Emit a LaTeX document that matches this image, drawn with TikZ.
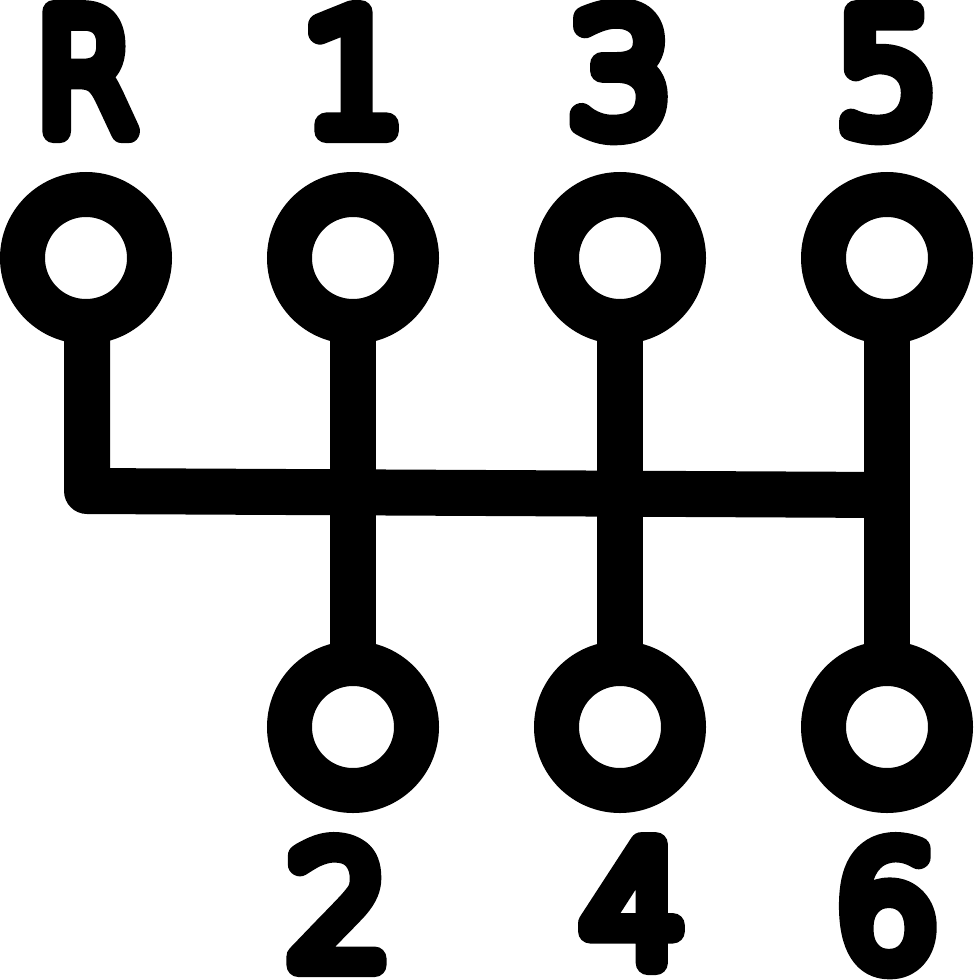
\documentclass[tikz,border=0pt]{standalone}
\usepackage{fontspec}
\setmainfont{DejaVu Sans ExtraLight}
\newcommand{\strokedtext}[1]{\special{pdf:code 1 J 1 j 24 w 2 Tr}#1\special{pdf:code 0 Tr}}
\pgfdeclarelayer{rods}
\pgfsetlayers{rods,main}
\tikzset{
  ring/.style={circle,draw=black,fill=white,line width=45pt,minimum size=127pt,inner sep=0pt,outer sep=0pt},
  rod/.style={draw=black,line width=46pt,line join=round},
  gearlabel/.style={inner sep=0pt,outer sep=0pt,anchor=base,font=\fontsize{163pt}{163pt}\selectfont,text=black}
}
\begin{document}
\begin{tikzpicture}[x=1pt,y=-1pt]
\useasboundingbox (0,0) rectangle (974,980);
\node[ring] (r) at (86,258) {};
\node[ring] (g1) at (353,258) {};
\node[ring] (g3) at (620,258) {};
\node[ring] (g5) at (887,258) {};
\node[ring] (g2) at (353,727) {};
\node[ring] (g4) at (620,727) {};
\node[ring] (g6) at (887,727) {};
\coordinate (corner) at (87,491);
\coordinate (end) at (887,495);
\begin{pgfonlayer}{rods}
\draw[rod] (g1.south) -- (g2.north);
\draw[rod] (g3.south) -- (g4.north);
\draw[rod] (g5.south) -- (g6.north);
\draw[rod] (r.south -| corner) -- (corner) -- (end);
\end{pgfonlayer}
\node[gearlabel,xscale=.9] (lr) at (86,131) {\strokedtext{R}};
\node[gearlabel] (l1) at (354,131) {\strokedtext{1}};
\node[gearlabel] (l3) at (621,131) {\strokedtext{3}};
\node[gearlabel] (l5) at (887,131) {\strokedtext{5}};
\node[gearlabel] (l2) at (339,965) {\strokedtext{2}};
\node[gearlabel] (l4) at (634,963) {\strokedtext{4}};
\node[gearlabel] (l6) at (887,965) {\strokedtext{6}};
\end{tikzpicture}
\end{document}
